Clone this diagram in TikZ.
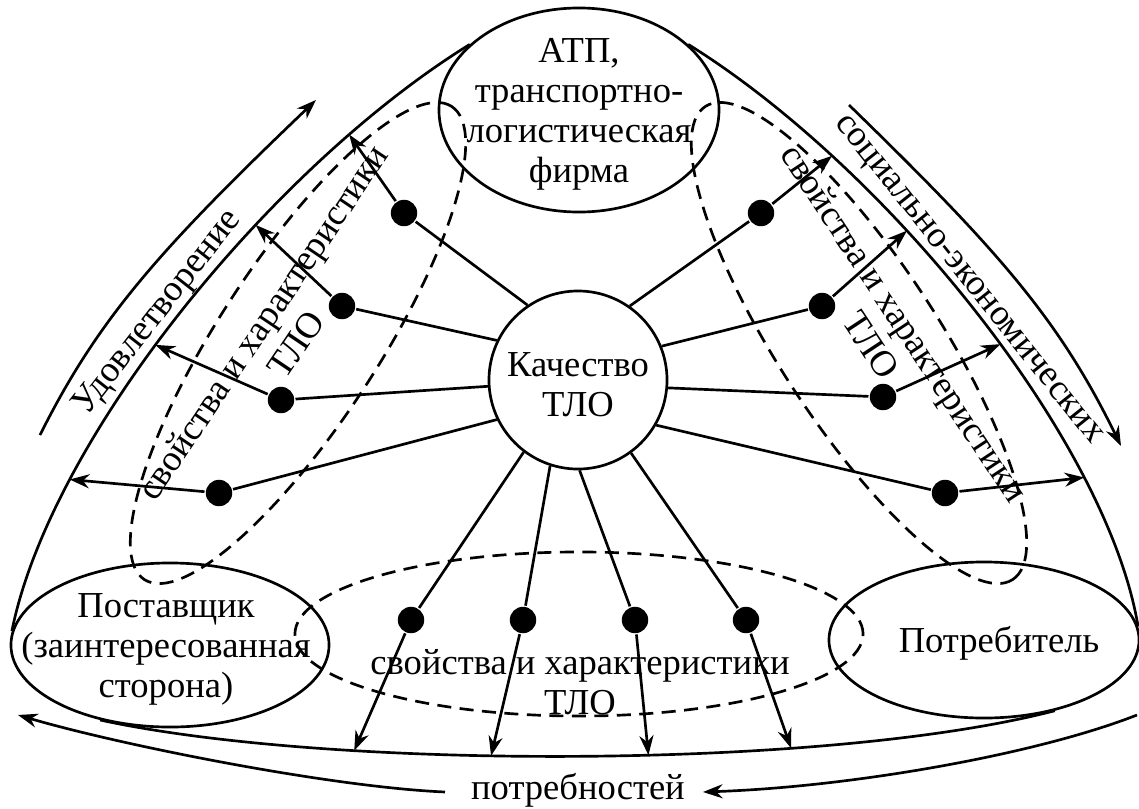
\documentclass[tikz,border=0pt]{standalone}
\usepackage{fontspec}
\setmainfont{Liberation Serif}
\usetikzlibrary{shapes.geometric,arrows.meta}

\begin{document}
\begin{tikzpicture}[x=0.025cm,y=-0.025cm,>={Stealth[length=14pt,width=10pt]},line width=1.9pt,
    txt/.style={font=\fontsize{26}{28.5}\selectfont,align=center,inner sep=0pt},
    oval/.style={draw,ellipse,inner sep=0pt},
    dsh/.style={draw,ellipse,dash pattern=on 10pt off 6pt,inner sep=0pt},
    dot/.style={circle,fill,inner sep=0pt,minimum size=0.66cm}]
    \useasboundingbox (0,0) rectangle (1139,809);
    \node[dsh,minimum width=14.1cm,minimum height=4cm,rotate=57] (dl) at (298,343) {};
    \node[dsh,minimum width=14.1cm,minimum height=4cm,rotate=-57] (dr) at (859,343) {};
    \node[dsh,minimum width=14.2cm,minimum height=4.1cm] (db) at (579,634) {};
    \node[oval,minimum width=7cm,minimum height=5.1cm] (atp) at (579,110) {};
    \node[oval,minimum width=7.95cm,minimum height=4.1cm] (post) at (170,645) {};
    \node[oval,minimum width=7.75cm,minimum height=3.9cm] (potr) at (984,640) {};
    \node[draw,circle,minimum size=4.45cm] (kach) at (578,380) {};
    \draw (post.175) .. controls (50,440) and (270,168) .. (atp.149)
      coordinate[pos=0.245] (lt4) coordinate[pos=0.45] (lt3) coordinate[pos=0.64] (lt2) coordinate[pos=0.8] (lt1);
    \draw (atp.31) .. controls (887,168) and (1107,440) .. (potr.5)
      coordinate[pos=0.24] (rt1) coordinate[pos=0.37] (rt2) coordinate[pos=0.55] (rt3) coordinate[pos=0.755] (rt4);
    \draw (post.227) .. controls (330,770) and (826,770) .. (potr.315)
      coordinate[pos=0.29] (bt1) coordinate[pos=0.42] (bt2) coordinate[pos=0.565] (bt3) coordinate[pos=0.70] (bt4);
    \node[dot] (l1) at (404,213) {};
    \node[dot] (l2) at (342,306) {};
    \node[dot] (l3) at (281,400) {};
    \node[dot] (l4) at (219,493) {};
    \node[dot] (r1) at (761,213) {};
    \node[dot] (r2) at (822,306) {};
    \node[dot] (r3) at (883,397) {};
    \node[dot] (r4) at (945,493) {};
    \node[dot] (b1) at (411,620) {};
    \node[dot] (b2) at (523,620) {};
    \node[dot] (b3) at (635,620) {};
    \node[dot] (b4) at (746,620) {};
    \draw (kach.124) -- (l1) (kach.154) -- (l2) (kach.184) -- (l3) (kach.206) -- (l4);
    \draw (kach.55) -- (r1) (kach.22) -- (r2) (kach.355) -- (r3) (kach.330) -- (r4);
    \draw (kach.233) -- (b1) (kach.252) -- (b2) (kach.271) -- (b3) (kach.306) -- (b4);
    \draw[->] (l1) -- (lt1);
    \draw[->] (l2) -- (lt2);
    \draw[->] (l3) -- (lt3);
    \draw[->] (l4) -- (lt4);
    \draw[->] (r1) -- (rt1);
    \draw[->] (r2) -- (rt2);
    \draw[->] (r3) -- (rt3);
    \draw[->] (r4) -- (rt4);
    \draw[->] (b1) -- (bt1);
    \draw[->] (b2) -- (bt2);
    \draw[->] (b3) -- (bt3);
    \draw[->] (b4) -- (bt4);
    \coordinate (ua) at (40,435); \coordinate (ub) at (316,100);
    \draw[->] (ua) .. controls (98,319) and (159,250) .. (ub);
    \coordinate (sa) at (849,105); \coordinate (sb) at (1121,446);
    \draw[->] (sa) .. controls (998,250) and (1059,319) .. (sb);
    \coordinate (pa) at (445,792); \coordinate (pb) at (18,715);
    \draw[->] (pa) .. controls (330,787) and (120,745) .. (pb);
    \coordinate (qa) at (1137,715); \coordinate (qb) at (703,792);
    \draw[->] (qa) .. controls (1035,755) and (850,787) .. (qb);
    \node[txt] (kacht) at (578,385) {Качество\\ТЛО};
    \node[txt] (atpt) at (579,114) {АТП,\\транспортно-\\логистическая\\фирма};
    \node[txt] (postt) at (166,649) {Поставщик\\(заинтересованная\\сторона)};
    \node[txt] (potrt) at (999,643) {Потребитель};
    \node[txt] (svb) at (580,682) {свойства и характеристики\\ТЛО};
    \node[txt,rotate=56] (svl) at (279,333) {свойства и характеристики\\ТЛО};
    \node[txt,rotate=-56.6] (svr) at (888,334) {свойства и характеристики\\ТЛО};
    \node[txt,rotate=52] (udt) at (158,313) {Удовлетворение};
    \node[txt,rotate=-51.4] (sot) at (967,281) {социально-экономических};
    \node[txt] (pot) at (578,790) {потребностей};
\end{tikzpicture}
\end{document}
